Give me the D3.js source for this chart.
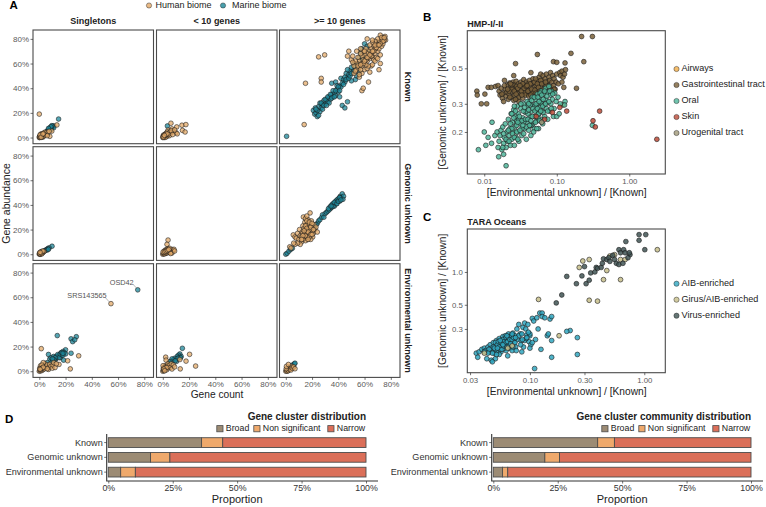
<!DOCTYPE html>
<html><head><meta charset="utf-8">
<script src="https://cdnjs.cloudflare.com/ajax/libs/d3/7.8.5/d3.min.js"></script>
<style>html,body{margin:0;padding:0;background:#fff}svg{display:block}text{font-family:"Liberation Sans",Arial,sans-serif}</style>
</head><body><div id="c"></div>
<script>
// ---- Panel A values: [gene count %, gene abundance %]
const knownSingleH=[[0,19],[13.4,10.2],[9.5,5.2],[8,1],[0,0],[.5,.3],[1,.5],[.3,1],[1.5,.8],[2,1.2],[1,1.8],[2.5,2],[.5,0],[3,1.5],[3.5,2.5],[2,3],[4,3],[4.5,2.2],[5,3.6],[5.8,2.7],[6.5,4.5],[3,.5],[1.2,2.8],[4,4.2],[7.5,5],[1.8,.2],[2.6,.8],[.2,.6],[6,1.5],[1.6,1.6],[2.2,2.4],[3.2,3.3],[.8,1.2],[.6,2.2],[1.4,.2],[2.8,2.9]];
const knownSingleM=[[14.7,15],[11,9.5],[10,8.5],[9,8],[8.5,7],[7.5,6.5],[10,9.2],[8,7.8],[6.5,5.8],[5.5,4.8],[11,8],[9,6.5],[3,2.5],[4.5,4],[2,1.5],[1,.8],[9.5,9.6],[8.8,8.7],[7,7.4]];
const knownFewH=[[6.2,11.6],[10.6,8.6],[14.6,10],[17.6,10.5],[15,5.8],[17,4.5],[7,7],[4,6],[8,5],[10,4],[11,3],[6,3.5],[3,2],[5,1.5],[2,1],[1,.5],[0,0],[.5,2],[1.5,2.5],[2.5,3.5],[3.5,4.5],[5,4],[1,0],[.2,1],[3,.8],[4.2,2.6],[6.5,5.5],[7.5,2.4],[9,6.2],[2,.2],[.8,1.3],[1.8,1.6],[2.4,2.2],[3.2,3],[.4,.4],[1.2,1.8]];
const knownFewM=[[3.5,9.4],[2,2],[1,1],[3,3],[4,3.5],[5,5]];
const knownManyM=[[.6,1],[21,22],[22,19],[23,20],[24,17],[25,25],[26,21],[27,24],[28,27],[29,30],[30,27],[31,31],[32,29],[33,33],[34,31],[35,35],[36,33],[37,36],[38,34],[39,39],[40,37],[41,33],[43,26],[45,24],[47,29],[35,44],[38,45],[41,42],[42,48],[44,47],[45,45],[46,52],[47,49],[48,51],[49,54],[50,57],[51,53],[52,60],[53,47],[54,50],[55,56],[56,53],[47,55],[50,46],[58,72],[60,76],[62,74],[57,69],[64,70],[60,64],[24,22],[22.5,24],[26,28],[33,28],[36,38],[39,42],[42,41],[25,18],[23,23],[27,28],[28,23],[29,26],[30,31],[31,26],[32,33],[34,35],[35,32],[37,33],[38,38],[40,41],[41,38],[43,44],[44,43],[45,49],[46,47],[48,48],[49,50],[50,52],[52,54],[53,57],[55,60],[56,65],[58,63],[59,68]];
const knownManyH=[[14,10.5],[15,44],[25,65.4],[29.6,67],[27,48],[27,45],[52,52],[63,45],[58,38],[59,40],[56,49],[72,60],[71,55],[47,66],[50,63],[48,70],[75.6,82],[74,81],[73,79],[76,79],[72,83],[71,78],[70,80],[69,76],[68,78],[67,74],[66,77],[65,72],[64,75],[63,70],[62,68],[61,72],[60,67],[59,70],[58,66],[57,68],[56,62],[55,65],[54,60],[53,62],[52,58],[51,61],[56,57],[58,58],[60,60],[62,62],[64,64],[66,66],[68,68],[70,70],[65,68],[67,63],[60,55],[62,56],[58,52],[56,51],[54,55],[65,58],[63,58],[69,65],[71,72],[73,74],[72,67],[60,70],[57,72],[54,70],[62,80],[66,79],[68,72],[59,63],[61,59],[64,53],[66,59],[53,54],[74,76],[75,79],[68,62],[70,64],[58,60],[55,58],[57,55],[51,66],[74,78],[72,76],[70,75],[69,73],[67,70],[65,66],[63,65],[61,63],[59,60],[57,59],[60,62],[62,65],[64,67],[66,70],[68,75],[71,75],[73,81],[75,81]];
const genomicSingleH=[[0,0],[.5,.3],[1,.8],[.2,1],[1.5,.5],[2,1.4],[2.5,1.1],[1.2,2],[3,1.8],[3.6,2.2],[.8,0],[1.8,.2],[2.2,2.4],[.3,.5],[1.6,1.2],[2.8,2.6],[.6,1.5]];
const genomicSingleM=[[9.7,6.5],[7.5,5.2],[6.5,4.6],[5.5,3.8],[4.6,3.2],[3.8,2.6],[6,3.4],[7,4]];
const genomicFewH=[[4,11.5],[3.2,8],[0,0],[.5,.5],[1,1],[1.5,.3],[2,1.5],[2.5,.8],[3,2],[3.5,1.2],[4,2.6],[4.5,1.8],[5,3],[5.5,1.5],[6,3.4],[6.8,2.2],[7.2,3.8],[8,3],[8.5,4],[2,3.4],[3,4],[4.2,4.6],[5.2,4.8],[1,2.5],[.2,1.8],[7,1],[6,.6],[9,2.6],[1.6,2],[2.6,2.6],[3.6,3.2],[4.6,3.8]];
const genomicFewM=[[1,.5],[2,1],[3,1.5]];
const genomicManyM=[[0,0],[1,.8],[2.4,2.5],[3.8,4],[5,4.8],[24,25],[25,27],[26,28],[27.4,30],[28,32],[29,30],[30,33],[31,34],[32,35],[33.7,38.5],[34,37],[35,40],[36,41],[37,39],[38,43],[38.5,41],[39,44],[40,45],[41,43],[41.5,47],[42,46],[43,49],[44,47],[43.5,44.5],[22,21],[23,24],[33,36],[35,38],[36,39],[37,42],[39,41],[40,43],[41,46],[42,44],[32.5,37],[34.5,39]];
const genomicManyH=[[3,6],[4,5],[5.7,15.7],[7,14],[8,13],[9,17],[10,12],[10.5,20],[11,15],[12,10],[12.5,18],[13.4,30.2],[13,23],[14,14],[14.5,26],[15,20],[15.5,17],[16,24],[16.5,12],[17,28],[17.5,21],[18.5,33.5],[18,16],[19,19],[19.5,27],[20,22],[20.5,14],[21,17],[21.5,24],[22,20],[23,22],[24,18],[12,14],[13,17],[14,21],[15,11],[16,18],[17,15],[18,23],[19,12],[20,18],[15,29],[16,31],[11,8],[9,9],[7,8],[6,9],[14,16],[16,14],[18,20],[13,12],[17,25],[15,15],[15,23],[16,21],[17,18],[18,14],[19,16],[19,22],[20,16],[21,20],[14,19],[13,15],[12,12],[16,27],[18,26],[17,12],[20,25]];
const envSingleM=[[75,66],[13.7,28.9],[24.2,26.3],[28.2,28],[25.4,24],[27,25.5],[24.2,14.6],[20,17.4],[7,13.6],[8,10],[9,11],[10,8],[11,12],[12,9],[13,10.5],[14,12],[15,13],[16,11],[16.5,15],[17,13],[18,16],[18.5,9],[19,15],[20,14],[6,7],[5,5],[4,3],[9.5,7],[13,12],[14,13.5],[15,11],[16,14],[17,15],[18,13],[12,11],[11,9.5],[10,10],[18,14.5]];
const envSingleH=[[54.6,54.8],[1.5,18.3],[30,12.5],[21.6,8.5],[23.6,1.9],[15,5.5],[0,0],[.5,.8],[1,.3],[1.5,1.4],[2,.6],[2.5,3],[3,1.5],[3.5,4],[4,2],[4.5,6],[5,3.5],[6,5],[7,1.5],[7.5,3.5],[8,5.5],[9,4],[10,2.5],[10.5,5],[11,7],[12,3],[.3,2.5],[1,4.5],[3,7],[2,5],[6,2],[13,6],[1.2,2],[2,2.4],[3,3.2],[.6,1.6]];
const envFewM=[[14.9,18.6],[13,14],[14,12],[12,13],[11,12],[12.5,11],[10,10],[9,10.5],[8,9],[7,10],[6,8],[5.5,6],[5,7.5],[4,5],[3,3.5],[2,2],[10.5,8],[13.5,11],[11.5,10.5],[9.5,8.5]];
const envFewH=[[20.4,13.7],[25,4.2],[13.3,1.9],[17.7,8.2],[2.2,11.4],[13,9.5],[2.5,9],[0,0],[.5,1],[1,.4],[.4,2.4],[1,3.5],[1.5,1.6],[2,4.5],[2.5,2.6],[3,1.2],[3.5,4],[4,6],[4.5,2.8],[5,4.8],[6,3.2],[6.5,6],[7,1.8],[8,5],[.2,4.5],[9,3.5],[1.8,3],[3,3],[.8,1.8],[1.5,.4]];
const envManyM=[[1,1],[2,2],[3,3.2],[4,3],[5,5],[5.5,4],[6.5,6],[7,6.5],[1.5,.5]];
const envManyH=[[0,0],[.5,.8],[1,0],[1.5,1.5],[2,.5],[2.5,2.5],[3,1.5],[3.5,3],[4,1],[4.5,4],[5,2.5],[6,3.5],[.3,2],[7,2],[.5,4],[2,5.5]];
// ---- Panel B values: [environmental/known, genomic/known]
const hmpAirways=[[.122,.295]];
const hmpGut=[[.22,.79],[.31,.79],[.157,.62],[.054,.61],[.027,.535],[.236,.55],[.09,.55],[.1,.545],[.13,.54],[.044,.47],[.0255,.45],[.0079,.36],[.008,.34],[.0091,.3],[.0108,.3],[.0102,.345],[.0113,.38],[.187,.375],[.0125,.38],[.0143,.385],[.0155,.39],[.016,.36],[.0165,.34],[.0172,.375],[.0178,.325],[.0185,.35],[.019,.42],[.0195,.37],[.02,.335],[.0205,.355],[.021,.395],[.0215,.32],[.022,.345],[.0225,.405],[.023,.37],[.0235,.385],[.024,.33],[.0245,.355],[.025,.41],[.0255,.375],[.026,.34],[.0265,.395],[.027,.36],[.0275,.415],[.028,.32],[.0285,.38],[.029,.35],[.0295,.4],[.03,.37],[.031,.34],[.032,.41],[.033,.385],[.034,.355],[.035,.425],[.036,.39],[.037,.365],[.038,.41],[.039,.345],[.04,.4],[.041,.37],[.042,.42],[.043,.385],[.045,.4],[.046,.36],[.047,.43],[.049,.38],[.05,.41],[.052,.39],[.054,.37],[.055,.42],[.057,.44],[.058,.4],[.06,.46],[.061,.38],[.063,.42],[.065,.45],[.067,.395],[.069,.43],[.07,.37],[.072,.46],[.074,.41],[.076,.39],[.078,.44],[.08,.42],[.082,.47],[.084,.38],[.086,.41],[.088,.45],[.09,.39],[.092,.43],[.095,.37],[.098,.41],[.1,.46],[.105,.4],[.11,.47],[.113,.45],[.118,.48],[.122,.44],[.128,.46],[.132,.49],[.118,.41],[.125,.38],[.092,.37],[.024,.37],[.03,.33],[.034,.4],[.022,.36],[.028,.385],[.036,.35],[.043,.355],[.048,.345],[.0175,.345],[.0185,.31],[.019,.39],[.021,.37],[.0225,.33],[.024,.395],[.0255,.315],[.026,.36],[.0275,.345],[.029,.375],[.03,.31],[.031,.39],[.0325,.36],[.034,.325],[.0355,.375],[.037,.34],[.038,.385],[.04,.36],[.041,.335],[.043,.4],[.045,.37],[.047,.35],[.049,.41],[.05,.365],[.052,.35],[.054,.4],[.056,.38],[.058,.36],[.06,.42],[.066,.37],[.072,.39],[.08,.37],[.023,.4],[.027,.32],[.033,.34],[.039,.39],[.044,.34],[.051,.43],[.062,.4],[.07,.41]];
const hmpOral=[[.0083,.155],[.0105,.165],[.0126,.17],[.01,.2],[.0113,.185],[.0128,.23],[.02,.123],[.0158,.14],[.0185,.145],[.31,.22],[.13,.31],[.128,.295],[.014,.19],[.015,.2],[.0155,.16],[.016,.175],[.0165,.19],[.017,.205],[.0175,.155],[.018,.215],[.0185,.17],[.019,.185],[.0195,.225],[.02,.16],[.0205,.2],[.021,.175],[.0215,.24],[.022,.19],[.0225,.21],[.023,.165],[.0235,.26],[.024,.18],[.0245,.23],[.025,.2],[.0255,.275],[.026,.165],[.0265,.215],[.027,.25],[.0275,.185],[.028,.235],[.0285,.29],[.029,.2],[.0295,.26],[.03,.175],[.031,.225],[.032,.28],[.033,.19],[.034,.245],[.035,.3],[.036,.21],[.037,.265],[.038,.18],[.039,.23],[.04,.29],[.041,.205],[.042,.31],[.043,.25],[.044,.19],[.045,.27],[.046,.33],[.047,.225],[.048,.295],[.049,.21],[.05,.25],[.051,.32],[.052,.275],[.053,.235],[.054,.345],[.055,.3],[.056,.21],[.057,.26],[.058,.33],[.059,.285],[.06,.24],[.061,.36],[.062,.31],[.063,.27],[.064,.225],[.066,.345],[.067,.295],[.068,.25],[.07,.375],[.071,.32],[.072,.28],[.074,.355],[.075,.24],[.076,.305],[.078,.385],[.08,.27],[.082,.34],[.083,.3],[.085,.36],[.087,.32],[.09,.25],[.092,.28],[.094,.35],[.098,.31],[.1,.25],[.104,.33],[.108,.26],[.112,.3],[.03,.24],[.035,.23],[.04,.26],[.045,.22],[.05,.29],[.055,.245],[.033,.21],[.038,.27],[.043,.22],[.028,.2],[.024,.21],[.06,.305],[.065,.265],[.018,.16],[.0185,.195],[.02,.18],[.0215,.205],[.022,.175],[.023,.225],[.0245,.195],[.0255,.245],[.026,.185],[.027,.27],[.028,.22],[.029,.18],[.0305,.25],[.031,.205],[.032,.3],[.033,.235],[.0345,.27],[.035,.195],[.036,.285],[.037,.24],[.038,.215],[.039,.31],[.04,.24],[.041,.275],[.042,.22],[.043,.295],[.044,.235],[.045,.315],[.046,.25],[.047,.28],[.048,.2],[.049,.33],[.05,.27],[.051,.23],[.052,.3],[.053,.21],[.054,.28],[.055,.33],[.056,.26],[.057,.31],[.058,.235],[.059,.35],[.06,.27],[.062,.34],[.064,.29],[.065,.32],[.068,.36],[.07,.3],[.073,.335],[.075,.27],[.078,.31],[.08,.36],[.084,.28],[.088,.345],[.024,.26],[.026,.29],[.029,.23],[.034,.22],[.041,.3]];
const hmpSkin=[[2.4,.18],[.39,.27],[.316,.235],[.34,.215],[.137,.27],[.11,.285],[.087,.265],[.052,.25],[.068,.24]];
const hmpUro=[[.062,.23]];
// ---- Panel C values: [environmental/known, genomic/known]
const taraAIB=[[.034,.18],[.035,.165],[.036,.185],[.038,.195],[.04,.2],[.041,.19],[.042,.16],[.043,.205],[.044,.185],[.045,.215],[.046,.155],[.047,.195],[.048,.225],[.049,.18],[.05,.21],[.051,.235],[.052,.19],[.053,.2],[.054,.245],[.055,.215],[.056,.185],[.057,.23],[.058,.255],[.059,.2],[.06,.22],[.061,.26],[.062,.19],[.063,.24],[.064,.21],[.065,.27],[.066,.23],[.067,.2],[.068,.25],[.07,.215],[.071,.275],[.072,.235],[.074,.26],[.075,.205],[.077,.3],[.078,.24],[.08,.33],[.082,.27],[.084,.235],[.085,.185],[.087,.31],[.09,.34],[.092,.3],[.094,.265],[.096,.33],[.098,.23],[.1,.26],[.102,.215],[.105,.375],[.108,.355],[.112,.24],[.115,.38],[.118,.3],[.122,.42],[.128,.42],[.128,.39],[.135,.38],[.142,.26],[.145,.27],[.15,.37],[.155,.39],[.155,.235],[.125,.195],[.155,.165],[.11,.13],[.26,.175],[.225,.29],[.26,.25],[.21,.285],[.05,.16],[.047,.15],[.054,.175],[.06,.2],[.064,.17],[.07,.19],[.073,.225],[.076,.19],[.08,.26],[.09,.235],[.1,.2],[.105,.225],[.088,.205],[.083,.215],[.056,.2],[.051,.175],[.046,.2],[.06,.24],[.066,.255],[.069,.235],[.073,.245],[.05,.225],[.055,.195],[.061,.215],[.085,.27],[.1,.27],[.093,.245],[.044,.195],[.048,.205],[.05,.195],[.052,.215],[.053,.23],[.054,.205],[.056,.225],[.057,.195],[.058,.24],[.059,.21],[.06,.23],[.062,.225],[.062,.25],[.063,.205],[.064,.23],[.065,.25],[.066,.21],[.067,.24],[.068,.22],[.069,.26],[.07,.24],[.071,.205],[.072,.25],[.074,.225],[.075,.25],[.047,.18],[.049,.2],[.043,.18],[.04,.185],[.052,.2],[.055,.235],[.058,.215],[.063,.26],[.07,.27],[.086,.24],[.094,.25],[.097,.28]];
const taraGirus=[[1.3,1.6],[.119,.56],[.33,.55],[.39,.54],[.62,.85],[.44,.85],[.47,1.03],[.27,1.1],[.29,1.26],[.33,1.3],[.18,.26],[.04,.18],[.064,.2],[.5,1.4],[.55,1.44],[.62,1.3],[.68,1.3],[.07,.21]];
const taraVirus=[[.9,2.2],[1.03,2.2],[.9,1.95],[1.01,1.6],[.69,1.9],[.75,1.44],[.21,.91],[.255,.78],[.19,.615],[.17,.52],[.3,1.12],[.285,.92],[.31,.78],[.33,.84],[.34,.98],[.37,1],[.38,1.1],[.39,1.08],[.42,1.1],[.43,1.2],[.44,1.32],[.47,1.3],[.49,1.35],[.5,1.25],[.53,1.42],[.55,1.3],[.57,1.2],[.6,1.6],[.6,1.17],[.62,1.5],[.65,1.2],[.66,1.6],[.68,1.5],[.72,1.35],[.74,1.5]];
// ---- Panel D values: [broad, non significant, narrow]
const barCategories=["Known","Genomic unknown","Environmental unknown"];
const barParts=["Broad","Non significant","Narrow"];
const clusterShares=[[36.2,8.2,55.6],[16.4,7.5,76.1],[4.8,5.7,89.5]];
const communityShares=[[40.5,6.5,53],[20,5.7,74.3],[3.6,2,94.4]];
const pctTicks=[0,20,40,60,80];
const hmpXTicks=[.01,.1,1],hmpYTicks=[.2,.3,.5];
const taraXTicks=[.03,.1,.3,1],taraYTicks=[.3,.5,1];

const W=766,H=507,ink="#333",tickGray="#5a5a5a";
const svg=d3.select("#c").append("svg").attr("width",W).attr("height",H);
const label=(x,y,t,o={})=>svg.append("text").attr("x",x).attr("y",y).text(t)
  .attr("font-size",o.s||8).attr("font-weight",o.b?"bold":"normal").attr("fill",o.c||"#222")
  .attr("text-anchor",o.a||"middle").attr("dominant-baseline","middle")
  .attr("transform",o.r?`rotate(${o.r} ${x} ${y})`:null);
function dots(g,data,x,y,fill,o={}){
  g.selectAll(null).data(data).join("circle")
   .attr("cx",d=>x(d[0])).attr("cy",d=>y(d[1])).attr("r",o.r||2.35)
   .attr("fill",fill).attr("fill-opacity",o.a||.75)
   .attr("stroke","#1a1a1a").attr("stroke-width",o.sw||.7).attr("stroke-opacity",.8);
}
function styleAxis(g,fs){
  g.select(".domain").remove();
  g.selectAll(".tick line").attr("stroke",ink).attr("stroke-width",.7);
  g.selectAll(".tick text").attr("fill",tickGray).attr("font-size",fs);
}
// ---- A
const colX=[33,156.5,279.5],rowY=[30,146.7,263.7],pw=120.5,ph=113.7;
const humanFill="#E3A968",marineFill="#1C8799";
const facets=[[[knownSingleM,knownSingleH],[knownFewM,knownFewH],[knownManyM,knownManyH]],
 [[genomicSingleM,genomicSingleH],[genomicFewM,genomicFewH],[genomicManyM,genomicManyH]],
 [[envSingleM,envSingleH],[envFewM,envFewH],[envManyM,envManyH]]];
facets.forEach((row,r)=>row.forEach((cell,c)=>{
  const x=d3.scaleLinear().domain([-4.8,87]).range([colX[c],colX[c]+pw]);
  const y=d3.scaleLinear().domain([-5,87.2]).range([rowY[r]+ph,rowY[r]]);
  const g=svg.append("g");
  dots(g,cell[0],x,y,marineFill);
  dots(g,cell[1],x,y,humanFill);
  g.append("rect").attr("x",colX[c]).attr("y",rowY[r]).attr("width",pw).attr("height",ph)
   .attr("fill","none").attr("stroke","#4a4a4a").attr("stroke-width",1.1);
  if(c===0){const a=svg.append("g").attr("transform",`translate(${colX[0]},0)`)
    .call(d3.axisLeft(y).tickValues(pctTicks).tickFormat(d=>d+"%").tickSize(2.5).tickPadding(1.5));styleAxis(a,8);}
  if(r===2){const a=svg.append("g").attr("transform",`translate(0,${rowY[2]+ph})`)
    .call(d3.axisBottom(x).tickValues(pctTicks).tickFormat(d=>d+"%").tickSize(2.5).tickPadding(1.5));styleAxis(a,8);}
  if(r===2&&c===0){
    const lead=(p,q)=>svg.append("line").attr("x1",x(p[0])).attr("y1",y(p[1])).attr("x2",x(q[0])).attr("y2",y(q[1])).attr("stroke","#777").attr("stroke-width",.5);
    lead([71,71],[74,67.5]);lead([50.5,59.5],[53.5,56]);
  }
}));
["Singletons","< 10 genes",">= 10 genes"].forEach((t,i)=>label(colX[i]+pw/2,21.5,t,{s:9,b:1}));
["Known","Genomic unknown","Environmental unknown"].forEach((t,i)=>label(407,rowY[i]+ph/2,t,{s:9,b:1,r:90}));
label(121.7,282.8,"OSD42",{s:7.3,c:"#555"});label(87,296.3,"SRS143565",{s:7.3,c:"#555"});
label(7,203.5,"Gene abundance",{s:10.5,r:-90});label(217,395.7,"Gene count",{s:10.2});
function key(x,y,fill,t,tx,fs){
  svg.append("circle").attr("cx",x).attr("cy",y).attr("r",2.6).attr("fill",fill).attr("fill-opacity",.8).attr("stroke","#222").attr("stroke-width",.6).attr("stroke-opacity",.75);
  label(tx,y,t,{s:fs,a:"start"});
}
key(149,5.5,humanFill,"Human biome",155.5,9);key(223,5.5,marineFill,"Marine biome",232,9);
// ---- B / C
function scatter(o){
  const x=d3.scaleLog().domain(o.xd).range([467.3,665.3]);
  const y=d3.scaleLog().domain(o.yd).range([o.y1,o.y0]);
  const g=svg.append("g");
  o.series.forEach(s=>dots(g,s.data,x,y,s.fill,{r:2.4,a:.85,sw:.75}));
  g.append("rect").attr("x",467.3).attr("y",o.y0).attr("width",198).attr("height",o.y1-o.y0).attr("fill","none").attr("stroke","#4a4a4a").attr("stroke-width",1.1);
  let a=svg.append("g").attr("transform",`translate(0,${o.y1})`).call(d3.axisBottom(x).tickValues(o.xt).tickFormat(d3.format(".2f")).tickSize(2.5).tickPadding(2));styleAxis(a,7.8);
  a=svg.append("g").attr("transform","translate(467.3,0)").call(d3.axisLeft(y).tickValues(o.yt).tickFormat(d3.format(".1f")).tickSize(2.5).tickPadding(2));styleAxis(a,7.8);
  label(566.7,o.y1+19.8,"[Environmental unknown] / [Known]",{s:10.2});
  label(443,(o.y0+o.y1)/2,"[Genomic unknown] / [Known]",{s:10.1,r:-90});
  label(467.3,o.y0-6.4,o.title,{s:9,b:1,a:"start"});
  o.series.filter(s=>s.name).forEach((s,i)=>key(676.5,o.ly+16*i,s.fill,s.name,681.5,9.1));
}
scatter({xd:[Math.pow(10,-2.234),Math.pow(10,.497)],yd:[Math.pow(10,-.9616),Math.pow(10,-.066)],y0:30.7,y1:174,xt:hmpXTicks,yt:hmpYTicks,title:"HMP-I/-II",ly:69,
 series:[{name:"Airways",data:hmpAirways,fill:"#F2AE48"},{name:"Gastrointestinal tract",data:hmpGut,fill:"#7A6038"},{name:"Oral",data:hmpOral,fill:"#4FB59A"},{name:"Skin",data:hmpSkin,fill:"#BC4B38"},{name:"Urogenital tract",data:hmpUro,fill:"#A09878"}]});
scatter({xd:[Math.pow(10,-1.547),Math.pow(10,.1836)],yd:[Math.pow(10,-.924),Math.pow(10,.394)],y0:229,y1:372.7,xt:taraXTicks,yt:taraYTicks,title:"TARA Oceans",ly:283.7,
 series:[{name:"AIB-enriched",data:taraAIB,fill:"#2FA6C0"},{name:"Girus/AIB-enriched",data:taraGirus,fill:"#C7BE8A"},{name:"Virus-enriched",data:taraVirus,fill:"#3F5453"}]});
// ---- D
const barFill=["#9C8B74","#EFA96C","#DB6F59"];
function bars(x0,x1,shares,title,keyX){
  const x=d3.scaleLinear().domain([0,100]).range([x0,x1]);
  const y=d3.scaleBand().domain(barCategories).range([435.2,479.5]).paddingInner(.34).paddingOuter(.17);
  const g=svg.append("g");
  shares.forEach((row,r)=>{let acc=0;
    const stacked=row.map(v=>{const s=[acc,acc+v];acc+=v;return s;});
    g.selectAll(null).data(stacked).join("rect")
     .attr("x",d=>x(d[0])).attr("width",d=>x(d[1])-x(d[0]))
     .attr("y",y(barCategories[r])).attr("height",y.bandwidth())
     .attr("fill",(d,i)=>barFill[i]).attr("stroke","#4d4d4d").attr("stroke-width",.9);
  });
  svg.append("path").attr("d",`M${x0-1.6},434V${481}H${x1+12}`).attr("fill","none").attr("stroke","#333").attr("stroke-width",1.1);
  let a=svg.append("g").attr("transform",`translate(0,481)`).call(d3.axisBottom(x).tickValues([0,25,50,75,100]).tickFormat(d=>d+"%").tickSize(2.5).tickPadding(1.5));
  styleAxis(a,8.8);a.selectAll(".tick text").attr("fill","#333");
  a=svg.append("g").attr("transform",`translate(${x0-1.6},0)`).call(d3.axisLeft(y).tickSize(2.5).tickPadding(1.5));
  styleAxis(a,9.1);a.selectAll(".tick text").attr("fill","#333");
  label((x0+x1)/2,500.5,"Proportion",{s:11});
  label(x1,417,title,{s:10,b:1,a:"end"});
  barParts.forEach((t,i)=>{
    svg.append("rect").attr("x",x0+keyX[i]).attr("y",425.6).attr("width",6.2).attr("height",6.2).attr("fill",barFill[i]).attr("stroke","#4d4d4d").attr("stroke-width",.8);
    label(x0+keyX[i]+9,429,t,{s:8.8,a:"start"});
  });
}
bars(108.3,366,clusterShares,"Gene cluster distribution",[108.5,145.5,219.5]);
bars(493.3,751,communityShares,"Gene cluster community distribution",[108.5,145.5,219.5]);
[["A",9.5,6],["B",423,18],["C",423,218],["D",5,420]].forEach(d=>label(d[1],d[2],d[0],{s:11.5,b:1,a:"start",c:"#000"}));
</script></body></html>
